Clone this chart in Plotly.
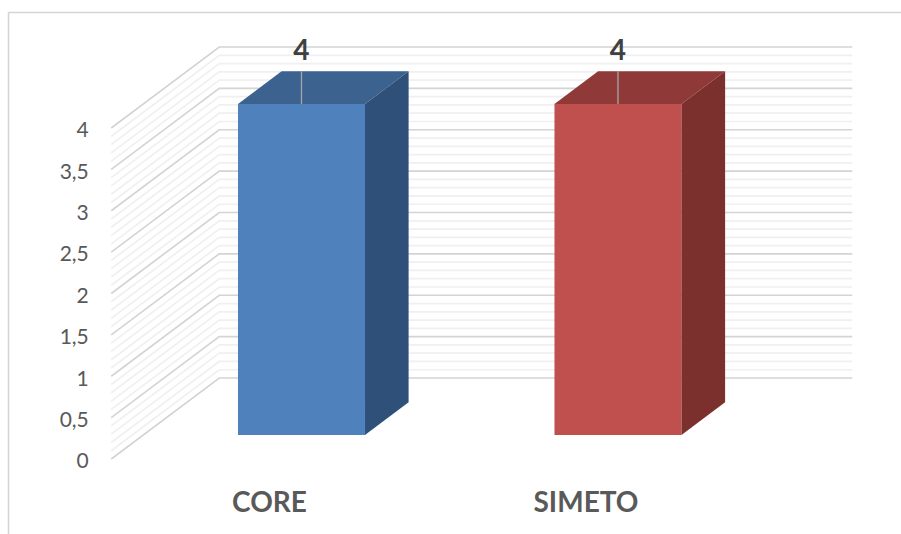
import plotly.graph_objects as go

categories = ["CORE", "SIMETO"]
values = [4, 4]
data_labels = ["4", "4"]
y_ticks = [0, 0.5, 1, 1.5, 2, 2.5, 3, 3.5, 4]
y_tick_labels = ["0", "0,5", "1", "1,5", "2", "2,5", "3", "3,5", "4"]
minor_ticks = [i / 10 for i in range(0, 41) if i % 5 != 0]

front_colors = ["#4f81bd", "#c0504d"]
top_colors = ["#3c6290", "#8f3a38"]
side_colors = ["#2f5079", "#7b302e"]
MAJOR = "#d4d4d4"
MINOR = "#f0f0f0"

W, H = 901, 534
PX_X = 316.5          # px per category
PX_Y = 82.75          # px per value unit
X0, Y0 = 269.5, 459   # px of category 0 / value 0 on the front floor edge
DX = 108 / PX_X       # full-depth shift in x
DY = 81 / PX_Y        # full-depth shift in y
D0, D1 = 0.296, 0.70  # depth of the bar's front and back faces
BAR_W = 127 / PX_X
X_LO, X_HI = -0.5, 1.5
LABEL_GAP = 4 / PX_Y

xr = [-X0 / PX_X, (W - X0) / PX_X]
yr = [(Y0 - H) / PX_Y, Y0 / PX_Y]

fig = go.Figure()


def grid(v, color, width):
    fig.add_trace(go.Scatter(
        x=[X_LO, X_LO + DX, X_HI + DX], y=[v, v + DY, v + DY], mode="lines",
        line=dict(color=color, width=width), hoverinfo="skip", showlegend=False,
    ))


for v in minor_ticks:
    grid(v, MINOR, 1.7)
for v in y_ticks:
    grid(v, MAJOR, 1.7)

xc = [i + D0 * DX for i in range(len(categories))]
fig.add_trace(go.Bar(
    x=xc, y=values, base=[D0 * DY] * len(values), width=BAR_W,
    marker=dict(color=front_colors, line=dict(width=0)),
    xaxis="x2", yaxis="y2", showlegend=False,
))

dd = (D1 - D0)
for i, v in enumerate(values):
    l, r = xc[i] - BAR_W / 2, xc[i] + BAR_W / 2
    b, t = D0 * DY, D0 * DY + v
    sx, sy = dd * DX, dd * DY
    fig.add_trace(go.Scatter(
        x=[l, r, r + sx, l + sx, l], y=[t, t, t + sy, t + sy, t], mode="lines",
        fill="toself", fillcolor=top_colors[i], line=dict(width=0),
        xaxis="x2", yaxis="y2", hoverinfo="skip", showlegend=False,
    ))
    fig.add_trace(go.Scatter(
        x=[r, r + sx, r + sx, r, r], y=[b, b + sy, t + sy, t, b], mode="lines",
        fill="toself", fillcolor=side_colors[i], line=dict(width=0),
        xaxis="x2", yaxis="y2", hoverinfo="skip", showlegend=False,
    ))
    fig.add_trace(go.Scatter(
        x=[xc[i], xc[i]], y=[t, t + sy], mode="lines",
        line=dict(color="#a6a6a6", width=1.3),
        xaxis="x2", yaxis="y2", hoverinfo="skip", showlegend=False,
    ))
    fig.add_trace(go.Scatter(
        x=[xc[i]], y=[t + sy + LABEL_GAP], mode="text", text=[data_labels[i]],
        textposition="top center",
        textfont=dict(family="Lato", size=28, color="#404040", weight="bold"),
        xaxis="x2", yaxis="y2", hoverinfo="skip", showlegend=False,
    ))

fig.update_layout(
    width=W, height=H, margin=dict(l=0, r=0, t=0, b=0),
    paper_bgcolor="white", plot_bgcolor="white", showlegend=False,
    font=dict(family="Lato", color="#595959"),
    xaxis=dict(
        domain=[0, 1], range=xr, showgrid=False, zeroline=False, showline=False,
        tickmode="array", tickvals=list(range(len(categories))), ticktext=categories,
        tickfont=dict(family="Lato", size=28, color="#595959", weight="bold"),
        anchor="free", position=(H - Y0) / H,
        ticks="outside", ticklen=18, tickcolor="rgba(0,0,0,0)",
    ),
    yaxis=dict(
        domain=[0, 1], range=yr, showgrid=False, zeroline=False, showline=False,
        tickmode="array", tickvals=y_ticks, ticktext=y_tick_labels,
        tickfont=dict(family="Lato", size=21, color="#595959"),
        anchor="free", position=110 / W,
        ticks="outside", ticklen=17, tickcolor="rgba(0,0,0,0)",
        ticklabelshift=2,
    ),
    xaxis2=dict(overlaying="x", matches="x", visible=False, range=xr),
    yaxis2=dict(overlaying="y", matches="y", visible=False, range=yr),
    shapes=[
        dict(type="line", xref="paper", yref="paper", x0=8.5 / W, x1=1,
             y0=1 - 12.5 / H, y1=1 - 12.5 / H, line=dict(color=MAJOR, width=1.5)),
        dict(type="line", xref="paper", yref="paper", x0=8.5 / W, x1=8.5 / W,
             y0=1 - 12.5 / H, y1=0, line=dict(color=MAJOR, width=1.5)),
    ],
)

fig.write_html("out.html", config={"displayModeBar": False},
               post_script="document.body.style.margin='0';")
